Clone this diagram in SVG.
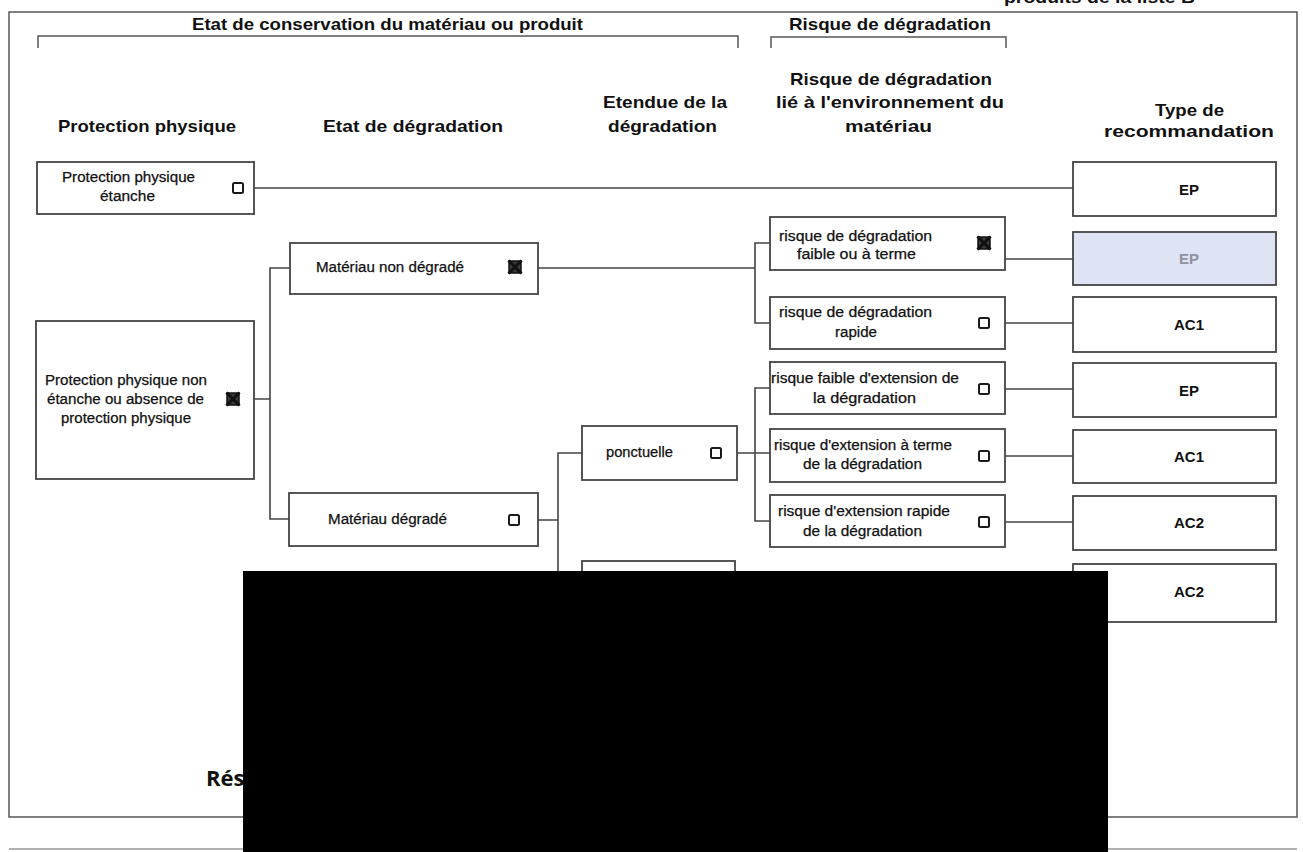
<svg xmlns="http://www.w3.org/2000/svg" width="1303" height="852" viewBox="0 0 1303 852">
  <style>
    .frame { fill: none; stroke: #555; stroke-width: 1.5; }
    .box { fill: #fff; stroke: #444; stroke-width: 1.8; }
    .boxsel { fill: #dfe4f5; stroke: #444; stroke-width: 1.8; }
    .conn { fill: none; stroke: #444; stroke-width: 1.6; }
    .hdr { font-family: "Liberation Sans", Arial, sans-serif; font-weight: bold; font-size: 17px; fill: #111; }
    .txt { font-family: "Liberation Sans", Arial, sans-serif; font-size: 14px; fill: #111; stroke: #111; stroke-width: 0.25; }
    .rec { font-family: "Liberation Sans", Arial, sans-serif; font-weight: bold; font-size: 15px; fill: #111; text-anchor: middle; }
    .cb { fill: #fff; stroke: #1a1a1a; stroke-width: 2; }
    .cbx { fill: #3a3a3a; stroke: #111; stroke-width: 1.5; }
    .cbxl { stroke: #111; stroke-width: 3; }
  </style>
  <defs>
    <g id="cbempty"><rect class="cb" x="-5" y="-5" width="10" height="10" rx="1.5"/></g>
    <g id="cbcross">
      <rect class="cbx" x="-6" y="-6" width="12" height="12"/>
      <path class="cbxl" d="M-6.5,-6.5 L6.5,6.5 M6.5,-6.5 L-6.5,6.5"/>
    </g>
  </defs>

  <rect width="1303" height="852" fill="#fff"/>

  <!-- page title fragment (cut off at top, as in the picture) -->
  <text class="hdr" x="1004" y="3" font-size="20" textLength="191" lengthAdjust="spacingAndGlyphs">produits de la liste B</text>

  <!-- outer frame -->
  <rect class="frame" x="9" y="12" width="1288" height="805"/>
  <line x1="9" y1="849" x2="1297" y2="849" stroke="#999" stroke-width="1.5"/>

  <!-- group headers with brackets -->
  <g id="hdr-etat-conservation">
    <text class="hdr" x="192" y="30" textLength="391" lengthAdjust="spacingAndGlyphs">Etat de conservation du matériau ou produit</text>
    <path class="frame" d="M38,48 V36 H738 V48"/>
  </g>
  <g id="hdr-risque">
    <text class="hdr" x="789" y="30" textLength="202" lengthAdjust="spacingAndGlyphs">Risque de dégradation</text>
    <path class="frame" d="M771,48 V37 H1006 V48"/>
  </g>

  <!-- column headers -->
  <g id="col-headers">
    <text class="hdr" x="58" y="132" textLength="178" lengthAdjust="spacingAndGlyphs">Protection physique</text>
    <text class="hdr" x="323" y="132" textLength="180" lengthAdjust="spacingAndGlyphs">Etat de dégradation</text>
    <text class="hdr" x="603" y="108" textLength="124" lengthAdjust="spacingAndGlyphs">Etendue de la</text>
    <text class="hdr" x="608" y="132" textLength="109" lengthAdjust="spacingAndGlyphs">dégradation</text>
    <text class="hdr" x="790" y="85" textLength="202" lengthAdjust="spacingAndGlyphs">Risque de dégradation</text>
    <text class="hdr" x="776" y="108" textLength="228" lengthAdjust="spacingAndGlyphs">lié à l'environnement du</text>
    <text class="hdr" x="845" y="132" textLength="87" lengthAdjust="spacingAndGlyphs">matériau</text>
    <text class="hdr" x="1155" y="116" textLength="69" lengthAdjust="spacingAndGlyphs">Type de</text>
    <text class="hdr" x="1104" y="137" textLength="170" lengthAdjust="spacingAndGlyphs">recommandation</text>
  </g>

  <!-- connectors -->
  <g id="connectors">
    <path class="conn" d="M254,188 H1073"/>
    <path class="conn" d="M254,399 H270 M290,268 H270 V519 H289"/>
    <path class="conn" d="M538,268 H755 M770,243 H755 V323 H770"/>
    <path class="conn" d="M1005,259 H1073"/>
    <path class="conn" d="M1005,323 H1073"/>
    <path class="conn" d="M538,520 H558 M582,453 H558 V600"/>
    <path class="conn" d="M737,453 H770 M770,388 H755 V521 H770"/>
    <path class="conn" d="M1005,389 H1073"/>
    <path class="conn" d="M1005,456 H1073"/>
    <path class="conn" d="M1005,522 H1073"/>
  </g>

  <!-- Protection physique column -->
  <g id="pp-etanche">
    <rect class="box" x="37" y="162" width="217" height="52"/>
    <text class="txt" x="62" y="182" textLength="133" lengthAdjust="spacingAndGlyphs">Protection physique</text>
    <text class="txt" x="100" y="201" textLength="55" lengthAdjust="spacingAndGlyphs">étanche</text>
    <use href="#cbempty" x="238" y="188"/>
  </g>
  <g id="pp-non-etanche">
    <rect class="box" x="36" y="321" width="218" height="158"/>
    <text class="txt" x="45" y="385" textLength="162" lengthAdjust="spacingAndGlyphs">Protection physique non</text>
    <text class="txt" x="47" y="404" textLength="157" lengthAdjust="spacingAndGlyphs">étanche ou absence de</text>
    <text class="txt" x="61" y="423" textLength="130" lengthAdjust="spacingAndGlyphs">protection physique</text>
    <use href="#cbcross" x="233" y="399"/>
  </g>

  <!-- Etat de dégradation column -->
  <g id="mat-non-degrade">
    <rect class="box" x="290" y="243" width="248" height="51"/>
    <text class="txt" x="316" y="272" textLength="148" lengthAdjust="spacingAndGlyphs">Matériau non dégradé</text>
    <use href="#cbcross" x="515" y="267"/>
  </g>
  <g id="mat-degrade">
    <rect class="box" x="289" y="493" width="249" height="53"/>
    <text class="txt" x="328" y="524" textLength="119" lengthAdjust="spacingAndGlyphs">Matériau dégradé</text>
    <use href="#cbempty" x="514" y="520"/>
  </g>

  <!-- Etendue column -->
  <g id="ponctuelle">
    <rect class="box" x="582" y="426" width="155" height="54"/>
    <text class="txt" x="606" y="457" textLength="67" lengthAdjust="spacingAndGlyphs">ponctuelle</text>
    <use href="#cbempty" x="716" y="453"/>
  </g>
  <g id="etendue-2">
    <rect class="box" x="582" y="561" width="153" height="60"/>
  </g>

  <!-- Risque column -->
  <g id="risque-faible">
    <rect class="box" x="770" y="217" width="235" height="53"/>
    <text class="txt" x="779" y="241" textLength="153" lengthAdjust="spacingAndGlyphs">risque de dégradation</text>
    <text class="txt" x="797" y="259" textLength="119" lengthAdjust="spacingAndGlyphs">faible ou à terme</text>
    <use href="#cbcross" x="984" y="243"/>
  </g>
  <g id="risque-rapide">
    <rect class="box" x="770" y="297" width="235" height="52"/>
    <text class="txt" x="779" y="317" textLength="153" lengthAdjust="spacingAndGlyphs">risque de dégradation</text>
    <text class="txt" x="835" y="337" textLength="42" lengthAdjust="spacingAndGlyphs">rapide</text>
    <use href="#cbempty" x="984" y="323"/>
  </g>
  <g id="ext-faible">
    <rect class="box" x="770" y="362" width="235" height="52"/>
    <text class="txt" x="771" y="383" textLength="188" lengthAdjust="spacingAndGlyphs">risque faible d'extension de</text>
    <text class="txt" x="813" y="403" textLength="103" lengthAdjust="spacingAndGlyphs">la dégradation</text>
    <use href="#cbempty" x="984" y="389"/>
  </g>
  <g id="ext-terme">
    <rect class="box" x="770" y="429" width="235" height="53"/>
    <text class="txt" x="774" y="450" textLength="178" lengthAdjust="spacingAndGlyphs">risque d'extension à terme</text>
    <text class="txt" x="803" y="469" textLength="119" lengthAdjust="spacingAndGlyphs">de la dégradation</text>
    <use href="#cbempty" x="984" y="456"/>
  </g>
  <g id="ext-rapide">
    <rect class="box" x="770" y="495" width="235" height="52"/>
    <text class="txt" x="778" y="516" textLength="172" lengthAdjust="spacingAndGlyphs">risque d'extension rapide</text>
    <text class="txt" x="803" y="536" textLength="119" lengthAdjust="spacingAndGlyphs">de la dégradation</text>
    <use href="#cbempty" x="984" y="522"/>
  </g>

  <!-- Type de recommandation column -->
  <g id="rec-1">
    <rect class="box" x="1073" y="162" width="203" height="54"/>
    <text class="rec" x="1189" y="195">EP</text>
  </g>
  <g id="rec-2">
    <rect class="boxsel" x="1073" y="232" width="203" height="53"/>
    <text class="rec" x="1189" y="264" style="fill:#8e93a0">EP</text>
  </g>
  <g id="rec-3">
    <rect class="box" x="1073" y="297" width="203" height="55"/>
    <text class="rec" x="1189" y="330">AC1</text>
  </g>
  <g id="rec-4">
    <rect class="box" x="1073" y="363" width="203" height="54"/>
    <text class="rec" x="1189" y="396">EP</text>
  </g>
  <g id="rec-5">
    <rect class="box" x="1073" y="430" width="203" height="53"/>
    <text class="rec" x="1189" y="462">AC1</text>
  </g>
  <g id="rec-6">
    <rect class="box" x="1073" y="496" width="203" height="54"/>
    <text class="rec" x="1189" y="528">AC2</text>
  </g>
  <g id="rec-7">
    <rect class="box" x="1073" y="564" width="203" height="58"/>
    <text class="rec" x="1189" y="597">AC2</text>
  </g>

  <!-- bottom title fragment -->
  <text x="206" y="786" font-family="'Open Sans', 'Liberation Sans', sans-serif" font-weight="bold" font-size="22" fill="#111">Rés</text>

  <!-- redaction block -->
  <rect x="243" y="571" width="865" height="281" fill="#000"/>
</svg>
